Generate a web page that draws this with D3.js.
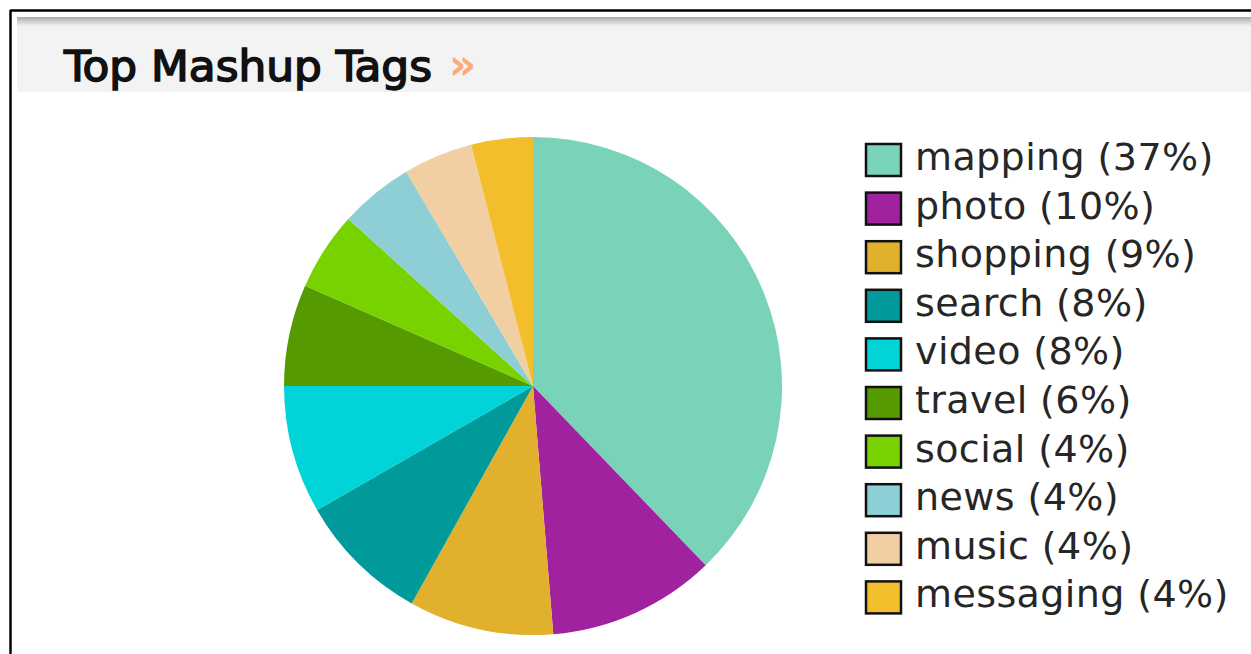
<!DOCTYPE html>
<html>
<head>
<meta charset="utf-8">
<script src="https://cdn.jsdelivr.net/npm/d3@7"></script>
<style>
  html, body { margin: 0; padding: 0; background: #fff; }
  svg { display: block; }
</style>
</head>
<body>
<svg id="chart" width="1251" height="654"></svg>
<script>
// ---- data ----
const categories = ["mapping", "photo", "shopping", "search", "video", "travel", "social", "news", "music", "messaging"];
const sliceValues = [37.8, 10.9, 9.4, 8.6, 8.3, 6.6, 5.1, 4.8, 4.5, 4.0];
const legendPercents = [37, 10, 9, 8, 8, 6, 4, 4, 4, 4];
const colors = ["#78d3b9", "#a0229e", "#e1b02c", "#009a9a", "#00d4d8", "#559a00", "#77d200", "#8dcfd5", "#f1cfa3", "#f2be2c"];
const titleText = "Top Mashup Tags";

const svg = d3.select("#chart");
const W = 1251, H = 654;

// outer frame
svg.append("line").attr("x1", 10).attr("x2", W).attr("y1", 10.5).attr("y2", 10.5)
  .attr("stroke", "#000").attr("stroke-width", 2.5);
svg.append("line").attr("x1", 10.5).attr("x2", 10.5).attr("y1", 10).attr("y2", H)
  .attr("stroke", "#000").attr("stroke-width", 2.5);

// header bar
const defs = svg.append("defs");
const grad = defs.append("linearGradient").attr("id", "hdr").attr("x1", 0).attr("x2", 0).attr("y1", 0).attr("y2", 1);
grad.append("stop").attr("offset", "0").attr("stop-color", "#a8a8a8");
grad.append("stop").attr("offset", "0.05").attr("stop-color", "#c8c8c8");
grad.append("stop").attr("offset", "0.12").attr("stop-color", "#f3f3f3");
grad.append("stop").attr("offset", "1").attr("stop-color", "#f3f3f3");
svg.append("rect").attr("x", 17).attr("y", 17).attr("width", W - 17).attr("height", 75)
  .attr("fill", "url(#hdr)");

svg.append("text")
  .attr("x", 64).attr("y", 81)
  .attr("font-family", "'DejaVu Sans Condensed', 'DejaVu Sans', sans-serif")
  .attr("font-stretch", "condensed")
  .attr("font-size", 42)
  .attr("fill", "#111")
  .attr("stroke", "#111")
  .attr("stroke-width", 1.4)
  .attr("textLength", 368)
  .attr("lengthAdjust", "spacingAndGlyphs")
  .text(titleText);

svg.append("text")
  .attr("x", 449).attr("y", 79)
  .attr("font-family", "'DejaVu Sans', sans-serif")
  .attr("font-weight", "bold")
  .attr("font-size", 42)
  .attr("fill", "#fbaa78")
  .text("»");

// pie
const cx = 533, cy = 386, R = 249;
const pie = d3.pie().sort(null).value(d => d.v).startAngle(0).endAngle(2 * Math.PI);
const arc = d3.arc().innerRadius(0).outerRadius(R);
const data = categories.map((c, i) => ({ c, v: sliceValues[i], col: colors[i] }));

svg.append("g").attr("transform", `translate(${cx},${cy})`)
  .selectAll("path").data(pie(data)).join("path")
  .attr("d", arc)
  .attr("fill", d => d.data.col);

// legend
const legY = d3.scaleBand().domain(categories).range([142, 142 + 48.6 * categories.length]).paddingInner(0);
const lg = svg.append("g");
const rows = lg.selectAll("g").data(categories).join("g")
  .attr("transform", d => `translate(0,${legY(d)})`);
rows.append("rect")
  .attr("x", 866).attr("y", 2).attr("width", 35).attr("height", 32)
  .attr("fill", (d, i) => colors[i])
  .attr("stroke", "#111").attr("stroke-width", 2.5);
rows.append("text")
  .attr("x", 915).attr("y", 28)
  .attr("font-family", "'DejaVu Sans', Verdana, sans-serif")
  .attr("font-size", 38)
  .attr("letter-spacing", 0.4)
  .attr("fill", "#262626")
  .text((d, i) => `${d} (${legendPercents[i]}%)`);
</script>
</body>
</html>
